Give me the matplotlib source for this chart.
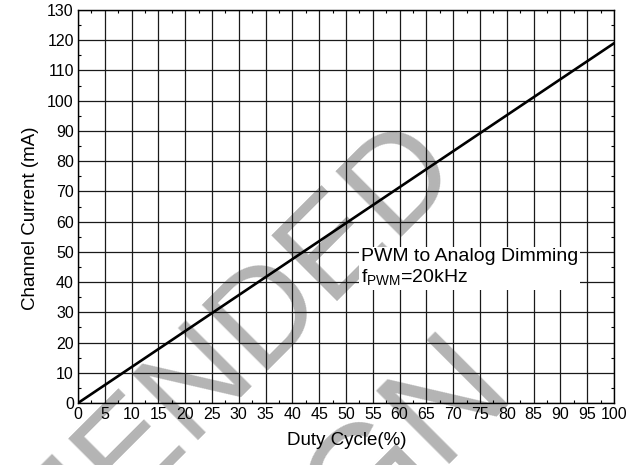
import matplotlib.pyplot as plt
from matplotlib.ticker import MultipleLocator

plt.rcParams['font.family'] = ['Liberation Sans', 'DejaVu Sans']

# -- data
duty = [0, 100]
current = [0, 119]

xticks = list(range(0, 101, 5))
yticks = list(range(0, 131, 10))

# -- figure and axes placement
fig = plt.figure(figsize=(6.38, 4.65), dpi=100)
ax = fig.add_axes([0.1223, 0.1333, 0.8401, 0.8452])
ax.patch.set_alpha(0)

# -- grey watermark sitting behind the plot
wm = dict(color='#b4b4b4', rotation=45, rotation_mode='anchor',
          ha='right', va='baseline', zorder=-1)
fig.text(0.726, 0.624, "NOT RECOMMENDED", fontsize=98, **wm)
fig.text(0.812, 0.150, "FOR NEW DESIGN", fontsize=108, **wm)

ax.plot(duty, current, color='black', lw=1.9, zorder=3)

ax.set_xlim(0, 100)
ax.set_ylim(0, 130)
ax.set_xticks(xticks)
ax.set_yticks(yticks)
ax.xaxis.set_minor_locator(MultipleLocator(2.5))
ax.yaxis.set_minor_locator(MultipleLocator(5))
ax.tick_params(axis='both', which='both', direction='in', top=True, right=True,
               labelsize=11.5, pad=3)
ax.tick_params(which='major', length=0)
ax.tick_params(which='minor', length=2.5, width=0.8)
ax.grid(True, which='major', color='#1a1a1a', lw=0.9)
for s in ax.spines.values():
    s.set_linewidth(1.0)

ax.set_xlabel("Duty Cycle(%)", fontsize=13.5)
ax.set_ylabel("Channel Current (mA)", fontsize=13.5)
ax.xaxis.set_label_coords(0.501, -0.074)
ax.yaxis.set_label_coords(-0.073, 0.47)

ax.text(52.8, 44.7, "PWM to Analog Dimming\n" + r"f$_{\mathregular{PWM}}$=20kHz",
        fontsize=14, va='center', ha='left', linespacing=1.18, zorder=4,
        bbox=dict(facecolor='white', edgecolor='none', pad=1.5))

fig.savefig("out.png", dpi=100)
